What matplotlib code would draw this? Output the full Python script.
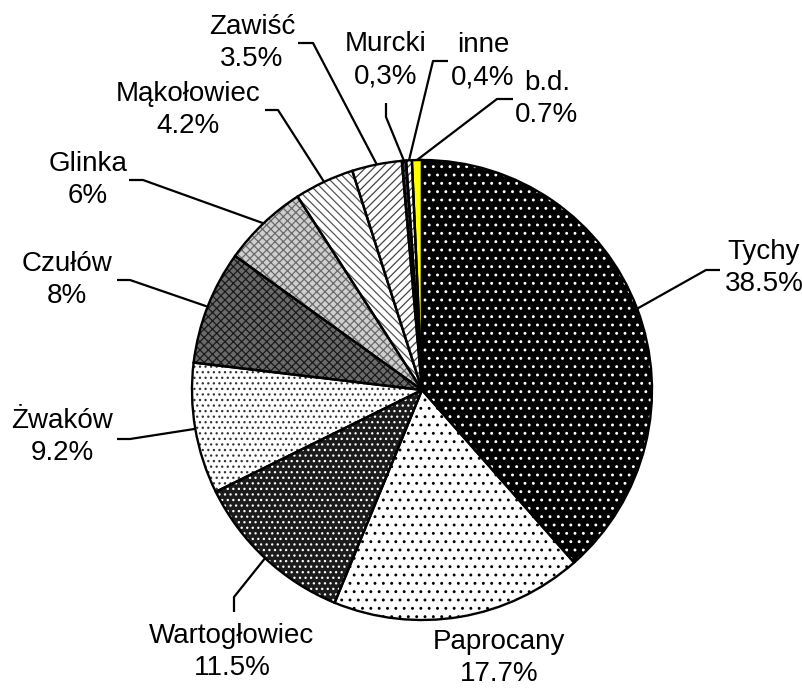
import matplotlib as mpl
mpl.use('Agg')
import matplotlib.pyplot as plt
import numpy as np

labels = ['Tychy', 'Paprocany', 'Wartogłowiec', 'Żwaków', 'Czułów', 'Glinka',
          'Mąkołowiec', 'Zawiść', 'Murcki', 'inne', 'b.d.']
values = [38.5, 17.7, 11.5, 9.2, 8, 6, 4.2, 3.5, 0.3, 0.4, 0.7]
value_texts = ['38.5%', '17.7%', '11.5%', '9.2%', '8%', '6%', '4.2%', '3.5%',
               '0,3%', '0,4%', '0.7%']

# fill colour, hatch pattern and hatch colour per wedge
faces = ['black', 'white', '#1c1c1c', 'white', '#6a6a6a', '#cfcfcf',
         'white', 'white', '#404040', 'white', '#ffff00']
hatches = ['..', '..', '...', '...', 'xxxx', 'xxxx',
           '\\\\\\\\', '////', '////', '////', '']
hatch_cols = ['white', 'black', 'white', '#333333', '#1a1a1a', '#6a6a6a',
              '#555555', '#444444', 'black', '#444444', '#ffff00']

W, H = 803, 690
# label centres and leader elbows, in pixels from the top-left corner
label_pos = [(764, 268), (499, 658), (232, 652), (62, 437), (67, 280),
             (88, 180), (188, 110), (252, 43), (386, 60), (483, 61), (547, 99)]
elbows = [[(720, 270), (706, 270)],
          None,
          [(234, 612), (234, 597)],
          [(117, 439), (130, 439)],
          [(117, 280), (130, 280)],
          [(129, 180), (143, 180)],
          [(265, 110), (278, 110)],
          [(298, 43), (313, 43)],
          [(386, 103), (386, 117)],
          [(448, 61), (433, 61)],
          [(513, 99), (497, 99)]]

mpl.rcParams['hatch.linewidth'] = 0.9

fig = plt.figure(figsize=(W / 100, H / 100), dpi=100)
ax = fig.add_axes([0, 0, 1, 1])

center = (422, H - 390)
radius = 230

# fills with hatching
wedges, _ = ax.pie(values, startangle=90, counterclock=False, center=center,
                   radius=radius, wedgeprops=dict(linewidth=0), frame=True)
for w, fc, h, hc in zip(wedges, faces, hatches, hatch_cols):
    w.set_facecolor(fc)
    w.set_edgecolor(hc)
    w.set_hatch(h)
    w.set_linewidth(0)

# black outlines on top
outl, _ = ax.pie(values, startangle=90, counterclock=False, center=center,
                 radius=radius, frame=True,
                 wedgeprops=dict(facecolor='none', edgecolor='black', linewidth=1.7))
ax.set_xlim(0, W)
ax.set_ylim(0, H)
ax.set_aspect('equal')
ax.axis('off')

for w, lab, vt, pos, elb in zip(wedges, labels, value_texts, label_pos, elbows):
    ax.text(pos[0], H - pos[1], lab + '\n' + vt, ha='center', va='center',
            fontsize=20, family=['Liberation Sans', 'DejaVu Sans'], linespacing=1.33)
    if elb is None:
        continue
    mid = np.deg2rad((w.theta1 + w.theta2) / 2)
    ex = center[0] + radius * np.cos(mid)
    ey = center[1] + radius * np.sin(mid)
    xs = [elb[0][0], elb[1][0], ex]
    ys = [H - elb[0][1], H - elb[1][1], ey]
    ax.plot(xs, ys, color='black', linewidth=1.6, solid_capstyle='butt')

fig.savefig('out.png', dpi=100)
